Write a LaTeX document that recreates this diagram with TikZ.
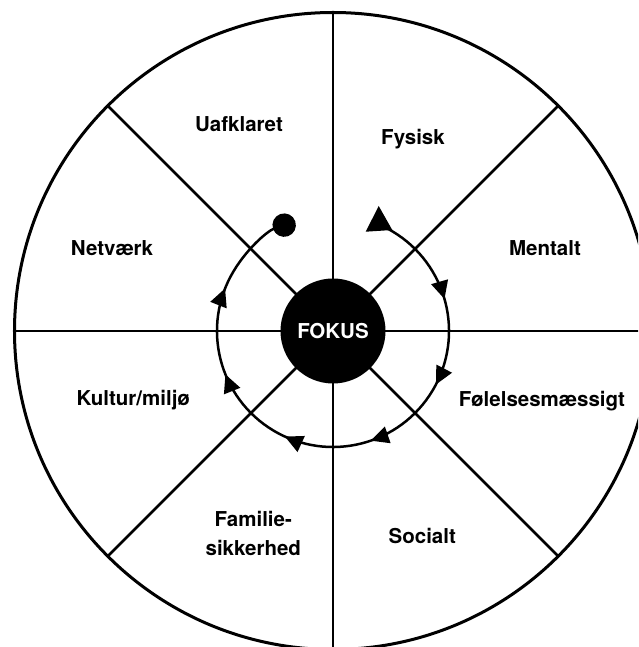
\documentclass[tikz,border=0pt]{standalone}
\usepackage{fontspec}
\setmainfont{TeX Gyre Heros}
\usetikzlibrary{arrows.meta,decorations.markings}

\tikzstyle{area} = [anchor=base, align=center, font=\fontsize{20.5}{28.5}\selectfont\bfseries]
\tikzstyle{spoke} = [line width=2.5pt]
\tikzstyle{focus} = [circle, fill=black, minimum size=105pt, inner sep=0pt, text=white, font=\fontsize{20.5}{24}\selectfont\bfseries]
\tikzstyle{round trip} = [line width=2.5pt, -{Circle[length=23.4pt]},
  decoration={markings, mark=between positions 0.147 and 0.85 step 0.139 with {\arrow{Triangle[length=18pt,width=17pt]}}},
  postaction=decorate]

\begin{document}
\begin{tikzpicture}[x=1pt,y=1pt]
  \useasboundingbox (-333,-316) rectangle (305,331);
  \clip (-333,-316) rectangle (305,331);

  % wheel
  \draw [line width=3pt] (0,0) circle (318.5);
  \foreach \a in {0,45,90,135}
    \draw [spoke] (\a:318.5) -- (\a+180:318.5);

  % areas
  \node (Uafklaret) [area] at (-94,199.3) {Uafklaret};
  \node (Fysisk) [area] at (80,186.7) {Fysisk};
  \node (Netvaerk) [area] at (-221,75) {Netværk};
  \node (Mentalt) [area] at (212,75) {Mentalt};
  \node (Kultur) [area] at (-199.7,-75) {Kultur/miljø};
  \node (Foelelser) [area] at (209,-75.7) {Følelsesmæssigt};
  \node (Familie) [area] at (-79.7,-224) {Familie-\\sikkerhed};
  \node (Socialt) [area] at (89.3,-212.3) {Socialt};

  \node (FOKUS) [focus] at (0,0) {FOKUS};

  % cycle round the focus
  \coordinate (start) at (62:116);
  \draw [round trip] (start) arc [start angle=62, end angle=-251, radius=116];
  \fill (45.7,125) -- (32.7,99.3) -- (59.3,101) -- cycle;
\end{tikzpicture}
\end{document}
